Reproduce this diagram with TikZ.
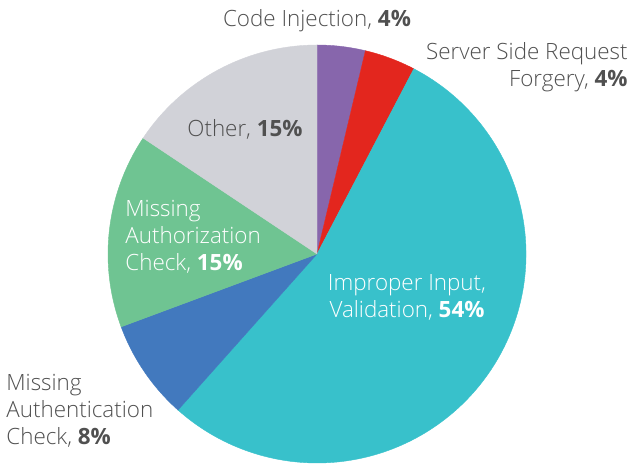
\documentclass[tikz,border=0pt]{standalone}
\usepackage{fontspec}
\setmainfont{Open Sans}[UprightFont=* Light, BoldFont=* Bold]
\definecolor{pieviolet}{HTML}{8766AC}
\definecolor{piered}{HTML}{E3261E}
\definecolor{piecyan}{HTML}{38C1CB}
\definecolor{pieblue}{HTML}{4279BE}
\definecolor{piegreen}{HTML}{6FC492}
\definecolor{piegray}{HTML}{D1D2D8}
\definecolor{labelgray}{HTML}{505050}
\tikzset{
  lbl/.style={font=\fontsize{11.2}{13.5}\selectfont, text=labelgray, inner sep=0pt},
  inlbl/.style={lbl, text=white}
}

\begin{document}
\begin{tikzpicture}[x=0.5pt, y=0.5pt]
    \useasboundingbox (0,0) rectangle (630,466);
    \coordinate (o) at (317,212);

    % slices, clockwise from the top
    \foreach \a/\b/\c in {90/76.6/pieviolet, 76.6/62.4/piered, 62.4/-131.7/piecyan,
                          -131.7/-159.6/pieblue, -159.6/-213.7/piegreen, -213.7/-270/piegray} {
        \fill[\c, draw=\c, line width=0.2pt] (o) -- ++(\a:209) arc[start angle=\a, end angle=\b, radius=209] -- cycle;
    }

    \node[lbl] (codeinj) at (317,445) {Code Injection, \textbf{4\%}};
    \node[lbl, align=right, anchor=east] (ssrf) at (628,399) {Server Side Request\\Forgery, \textbf{4\%}};
    \node[lbl] (other) at (245,337) {Other, \textbf{15\%}};
    \node[inlbl, align=left, anchor=west] (authz) at (125,229) {Missing\\Authorization\\Check, \textbf{15\%}};
    \node[inlbl, align=center] (input) at (407,169) {Improper Input,\\Validation, \textbf{54\%}};
    \node[lbl, align=left, anchor=west] (authn) at (6,55) {Missing\\Authentication\\Check, \textbf{8\%}};
\end{tikzpicture}
\end{document}
